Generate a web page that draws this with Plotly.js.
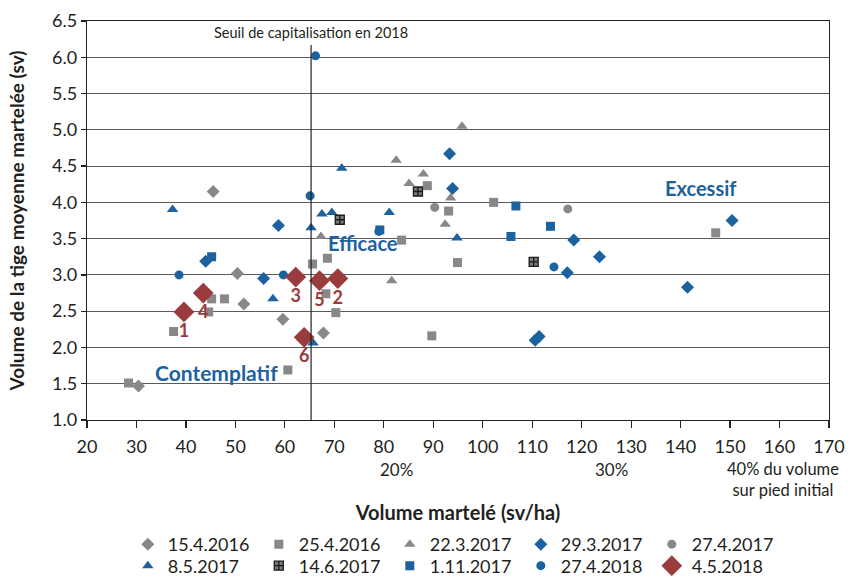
<!DOCTYPE html>
<html>
<head>
<meta charset="utf-8">
<script src="https://cdn.plot.ly/plotly-3.0.1.min.js"></script>
<style>html,body{margin:0;padding:0;background:#fff;}#chart{width:848px;height:576px;}</style>
</head>
<body>
<div id="chart"></div>
<script>
// ---- data ----
const names = ['15.4.2016','25.4.2016','22.3.2017','29.3.2017','27.4.2017','8.5.2017','14.6.2017','1.11.2017','27.4.2018','4.5.2018'];

const x_15_4_2016 = [45.5, 50.4, 51.7, 59.6, 67.8, 30.4];
const y_15_4_2016 = [4.15, 3.02, 2.60, 2.39, 2.20, 1.47];

const x_25_4_2016 = [28.4, 37.5, 44.6, 45.2, 47.8, 60.6, 65.6, 68.6, 68.3, 70.3, 83.6, 89.7, 94.9, 93.1, 88.8, 102.2, 147.1];
const y_25_4_2016 = [1.51, 2.22, 2.49, 2.67, 2.67, 1.69, 3.15, 3.23, 2.74, 2.48, 3.48, 2.16, 3.17, 3.88, 4.23, 4.00, 3.58];

const x_22_3_2017 = [95.8, 82.5, 88.0, 85.1, 93.5, 92.4, 81.6, 67.3];
const y_22_3_2017 = [5.05, 4.58, 4.39, 4.26, 4.06, 3.70, 2.92, 3.53];

const x_29_3_2017 = [93.3, 93.9, 118.4, 117.1, 110.6, 111.4, 150.4, 123.6, 141.4, 58.7, 44.0, 55.7];
const y_29_3_2017 = [4.67, 4.19, 3.48, 3.03, 2.10, 2.15, 3.75, 3.25, 2.83, 3.68, 3.19, 2.95];

const x_27_4_2017 = [90.3, 117.2];
const y_27_4_2017 = [3.93, 3.91];

const x_8_5_2017 = [37.3, 67.5, 69.5, 71.5, 81.1, 94.8, 65.3, 57.6, 65.7];
const y_8_5_2017 = [3.90, 3.84, 3.86, 4.47, 3.86, 3.51, 3.65, 2.67, 2.06];

const x_14_6_2017 = [86.9, 71.1, 110.3];
const y_14_6_2017 = [4.15, 3.76, 3.18];

const x_1_11_2017 = [106.7, 113.7, 105.7, 79.2, 45.2];
const y_1_11_2017 = [3.95, 3.67, 3.53, 3.62, 3.25];

const x_27_4_2018 = [66.2, 65.1, 38.6, 59.7, 114.4, 79.0];
const y_27_4_2018 = [6.02, 4.09, 3.00, 3.00, 3.11, 3.60];

const labels_4_5_2018 = ['1', '2', '3', '4', '5', '6'];
const x_4_5_2018 = [39.6, 70.7, 62.2, 43.5, 67.0, 63.9];
const y_4_5_2018 = [2.49, 2.95, 2.97, 2.75, 2.92, 2.14];

const seuil2018 = 65.3;
const xTicks = [20,30,40,50,60,70,80,90,100,110,120,130,140,150,160,170];
const yTicks = [1.0,1.5,2.0,2.5,3.0,3.5,4.0,4.5,5.0,5.5,6.0,6.5];

// ---- styles ----
const GRAY = '#88888a';
const BLUE = '#1b629f';
const RED = '#9a3b3e';
const TXT = '#231f20';
const FONT = 'Lato, "Open Sans", sans-serif';

function tr(name, x, y, symbol, color, size, legend, extra) {
  const t = {
    type: 'scatter', mode: 'markers', name: name, x: x, y: y,
    marker: {symbol: symbol, color: color, size: size, line: {width: 0}},
    legend: legend, hoverinfo: 'x+y+name'
  };
  return Object.assign(t, extra || {});
}

const data = [
  tr(names[0], x_15_4_2016, y_15_4_2016, 'diamond', GRAY, 10, 'legend'),
  tr(names[1], x_25_4_2016, y_25_4_2016, 'square', GRAY, 9, 'legend'),
  tr(names[2], x_22_3_2017, y_22_3_2017, 'triangle-up', GRAY, 10, 'legend'),
  tr(names[3], x_29_3_2017, y_29_3_2017, 'diamond', BLUE, 10, 'legend'),
  tr(names[4], x_27_4_2017, y_27_4_2017, 'circle', GRAY, 9, 'legend'),
  tr(names[5], x_8_5_2017, y_8_5_2017, 'triangle-up', BLUE, 10, 'legend2'),
  tr(names[6], x_14_6_2017, y_14_6_2017, 'square-cross', '#7a7a7c', 9, 'legend2', {marker: {symbol: 'square-cross', color: '#7a7a7c', size: 9, line: {width: 1.3, color: '#1a1a1a'}}}),
  tr(names[7], x_1_11_2017, y_1_11_2017, 'square', BLUE, 9, 'legend2'),
  tr(names[8], x_27_4_2018, y_27_4_2018, 'circle', BLUE, 9, 'legend2'),
  tr(names[9], x_4_5_2018, y_4_5_2018, 'diamond', RED, 16, 'legend2'),
  {
    type: 'scatter', mode: 'markers+text', x: x_4_5_2018, y: y_4_5_2018, text: labels_4_5_2018,
    textposition: 'bottom center', showlegend: false, hoverinfo: 'skip',
    marker: {size: 17, color: 'rgba(0,0,0,0)', line: {width: 0}},
    textfont: {family: FONT, size: 18, color: RED, weight: 'bold'}
  }
];

const layout = {
  width: 848, height: 576,
  margin: {l: 87, r: 19, t: 21, b: 156, autoexpand: false},
  paper_bgcolor: '#fff', plot_bgcolor: '#fff',
  font: {family: FONT, color: TXT, size: 17},
  showlegend: true,
  xaxis: {
    range: [20, 170], tickvals: xTicks, ticktext: xTicks.map(String),
    showgrid: false, zeroline: false,
    showline: true, linecolor: '#222', linewidth: 1.2, mirror: true,
    ticks: 'outside', ticklen: 7, tickcolor: '#222', tickwidth: 1.2,
    ticklabelstandoff: 3,
    tickfont: {size: 18, family: FONT, color: TXT},
    title: {text: 'Volume martelé (sv/ha)', font: {size: 20, family: FONT, weight: 'bold', color: TXT}, standoff: 50}
  },
  yaxis: {
    range: [1.0, 6.5], tickvals: yTicks, ticktext: yTicks.map(v => v.toFixed(1)),
    showgrid: true, gridcolor: '#5a5a5a', gridwidth: 1,
    zeroline: false,
    showline: true, linecolor: '#222', linewidth: 1.2, mirror: true,
    ticks: 'outside', ticklen: 5, tickcolor: '#222', tickwidth: 1.2,
    tickfont: {size: 18, family: FONT, color: TXT},
    title: {text: 'Volume de la tige moyenne martelée (sv)', font: {size: 19, family: FONT, weight: 'bold', color: TXT}, standoff: 22}
  },
  legend: {
    orientation: 'h', x: 0.055, xanchor: 'left', y: -0.2655, yanchor: 'top',
    entrywidth: 86, font: {size: 18, family: FONT, color: TXT}, bgcolor: 'rgba(0,0,0,0)'
  },
  legend2: {
    orientation: 'h', x: 0.055, xanchor: 'left', y: -0.3195, yanchor: 'top',
    entrywidth: 86, font: {size: 18, family: FONT, color: TXT}, bgcolor: 'rgba(0,0,0,0)'
  },
  shapes: [
    {type: 'line', xref: 'x', yref: 'y', x0: seuil2018, x1: seuil2018, y0: 1.0, y1: 6.17, line: {color: '#222', width: 1.2}}
  ],
  annotations: [
    {xref: 'x', yref: 'y', x: seuil2018, y: 6.2, text: 'Seuil de capitalisation en 2018', showarrow: false, yanchor: 'bottom', font: {size: 14.5, family: FONT, color: TXT}},
    {xref: 'x', yref: 'y', x: 144.1, y: 4.2, text: 'Excessif', showarrow: false, font: {size: 20, family: FONT, color: BLUE, weight: 'bold'}},
    {xref: 'x', yref: 'y', x: 75.7, y: 3.44, text: 'Efficace', showarrow: false, font: {size: 20, family: FONT, color: BLUE, weight: 'bold'}},
    {xref: 'x', yref: 'y', x: 46.1, y: 1.65, text: 'Contemplatif', showarrow: false, font: {size: 21, family: FONT, color: BLUE, weight: 'bold'}},
    {xref: 'x', yref: 'paper', x: 82.6, y: -0.093, yanchor: 'top', text: '20%', showarrow: false, font: {size: 17, family: FONT, color: TXT}},
    {xref: 'x', yref: 'paper', x: 126.0, y: -0.093, yanchor: 'top', text: '30%', showarrow: false, font: {size: 17, family: FONT, color: TXT}},
    {xref: 'x', yref: 'paper', x: 160.7, y: -0.093, yanchor: 'top', text: '40% du volume<br>sur pied initial', showarrow: false, font: {size: 16.5, family: FONT, color: TXT}}
  ]
};

Plotly.newPlot('chart', data, layout, {displayModeBar: false, staticPlot: true});
</script>
</body>
</html>
